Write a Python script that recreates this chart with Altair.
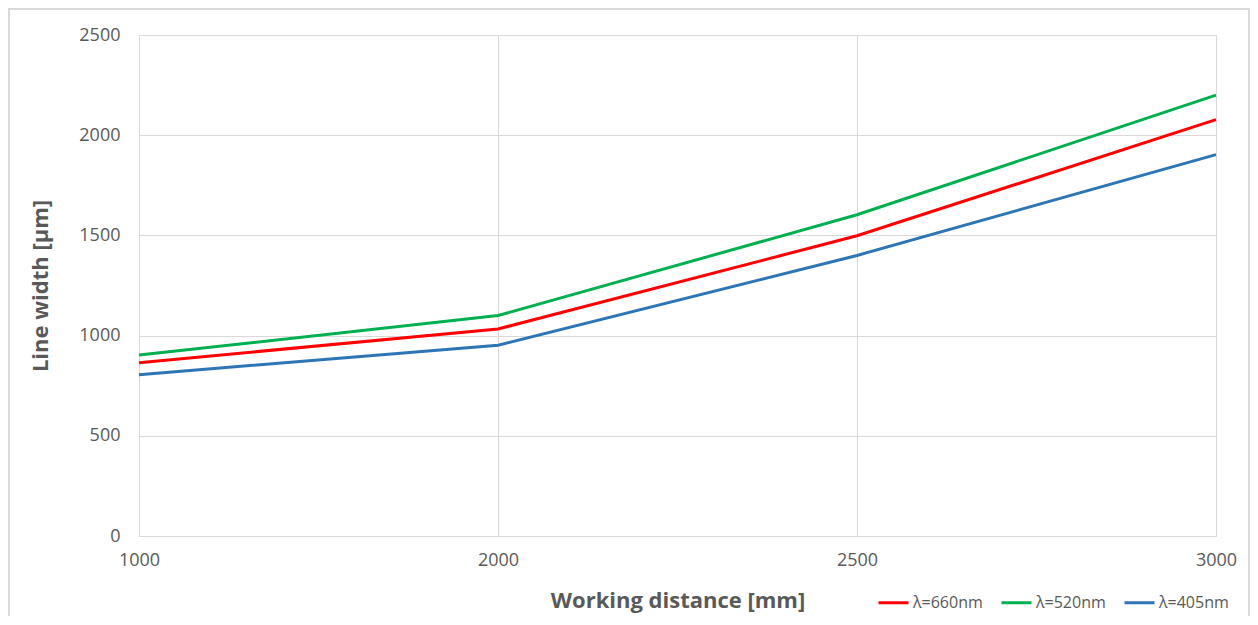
import altair as alt
import pandas as pd

distances = [1000, 2000, 2500, 3000]
series_names = ["λ=660nm", "λ=520nm", "λ=405nm"]
w660 = [865, 1033, 1498, 2078]
w520 = [903, 1100, 1603, 2200]
w405 = [805, 952, 1400, 1903]
colors = ["#FF0000", "#00B050", "#2E75B6"]

rows = []
for name, vals in zip(series_names, [w660, w520, w405]):
    for d, v in zip(distances, vals):
        rows.append({"distance": str(d), "width": v, "series": name})
df = pd.DataFrame(rows)

FONT = "Open Sans"
W, H = 1077, 501

lines = alt.Chart(df).mark_line(strokeWidth=3).encode(
    x=alt.X("distance:O", sort=[str(d) for d in distances],
            scale=alt.Scale(type="point", padding=0),
            axis=alt.Axis(title="Working distance [mm]", labelAngle=0, grid=True,
                          gridColor="#D9D9D9", ticks=False, tickSize=0, domain=False,
                          labelFontSize=18, labelColor="#595959", labelFont=FONT,
                          labelPadding=15, titleFontSize=22, titleFont=FONT,
                          titleFontWeight="bold", titleColor="#595959", titlePadding=21)),
    y=alt.Y("width:Q", scale=alt.Scale(domain=[0, 2500]),
            axis=alt.Axis(title="Line width [µm]", values=[0, 500, 1000, 1500, 2000, 2500],
                          format="d",
                          grid=True, gridColor="#D9D9D9", ticks=False, tickSize=0, domain=False,
                          labelFontSize=18, labelColor="#595959", labelFont=FONT,
                          labelPadding=19, titleFontSize=22, titleFont=FONT,
                          titleFontWeight="bold", titleColor="#595959", titlePadding=26)),
    color=alt.Color("series:N", scale=alt.Scale(domain=series_names, range=colors),
                    sort=series_names,
                    legend=alt.Legend(title=None, orient="none", direction="horizontal",
                                      legendX=738, legendY=551, symbolType="stroke",
                                      symbolStrokeWidth=3, symbolSize=900,
                                      labelFontSize=16, labelFont=FONT, labelColor="#595959",
                                      labelOffset=3, columnPadding=12)),
)

border = alt.Chart(pd.DataFrame({"a": [0]})).mark_rect(
    filled=False, stroke="#D9D9D9", strokeWidth=2
).encode(
    x=alt.value(9 - 139), x2=alt.value(1249 - 139),
    y=alt.value(9 - 35), y2=alt.value(700),
)

chart = alt.layer(border, lines).properties(
    width=W, height=H,
    autosize=alt.AutoSizeParams(type="none"),
    padding={"left": 131, "top": 27, "right": 34, "bottom": 80},
).configure_view(stroke="#D9D9D9").configure(background="white")

chart.save("out.html", embed_options={"renderer": "svg", "actions": False})
